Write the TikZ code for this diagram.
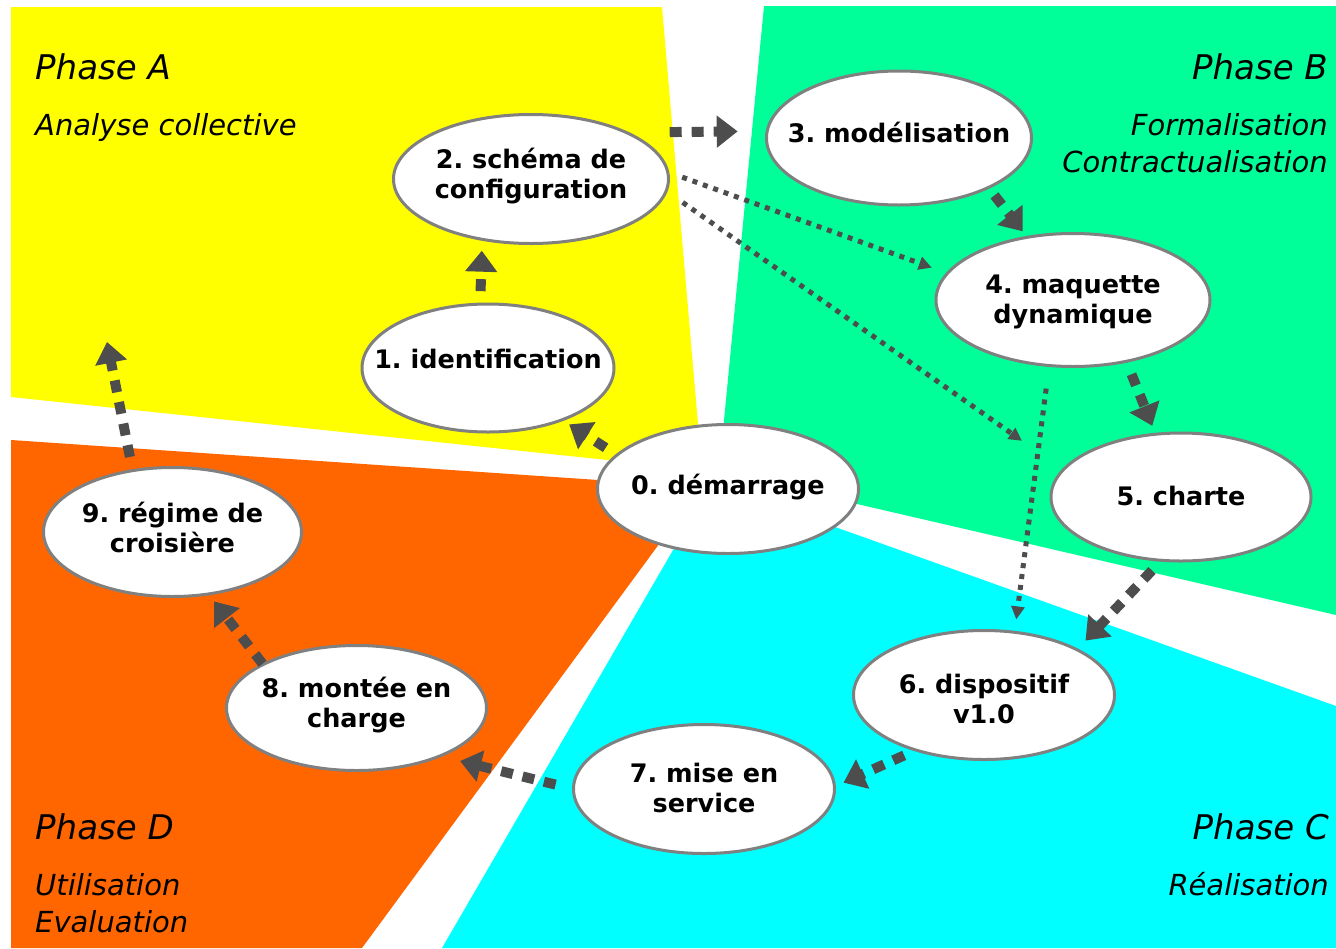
\documentclass[tikz,border=0pt]{standalone}
\usepackage{fontspec}
\setmainfont{DejaVu Sans}
\frenchspacing
\usetikzlibrary{arrows.meta,shapes.geometric}
\definecolor{cA}{HTML}{FFFF00}
\definecolor{cB}{HTML}{00FF99}
\definecolor{cC}{HTML}{00FFFF}
\definecolor{cD}{HTML}{FF6600}
\definecolor{arr}{HTML}{4D4D4D}
\definecolor{rim}{HTML}{808080}
\newcommand\ntext[2]{\raisebox{#1}[0pt][0pt]{\makebox[0pt]{\begin{tabular}[t]{@{}c@{}}#2\end{tabular}}}}
\begin{document}
\begin{tikzpicture}[x=1pt,y=-1pt,
  ell/.style={ellipse, draw=rim, line width=3pt, fill=white, inner sep=0pt, outer sep=0pt,
    font=\fontsize{25.5}{30}\selectfont\bfseries},
  bigarrow/.style={draw=arr, line width=10pt, dash pattern=on 12pt off 10pt,
    -{Triangle[length=21pt,width=31pt]}},
  thinarrow/.style={draw=arr, line width=5pt, dash pattern=on 5pt off 6pt,
    -{Triangle[length=13pt,width=13pt]}},
  phase/.style={inner sep=0pt, font=\fontsize{34}{40}\selectfont\itshape},
  sub/.style={inner sep=0pt, font=\fontsize{29}{37}\selectfont\itshape}]
\useasboundingbox[fill=white] (0,0) rectangle (1336,948);
% phase areas
\fill[cA] (11,7) -- (662,7) -- (702,470) -- (11,397) -- cycle;
\fill[cB] (764,6) -- (1336,6) -- (1336,615) -- (719,472) -- cycle;
\fill[cC] (712,483) -- (1336,706) -- (1336,948) -- (442,948) -- cycle;
\fill[cD] (11,440) -- (701,487) -- (362,948) -- (11,948) -- cycle;
% phase labels
\node[phase, anchor=base west] (pA) at (35,79) {Phase A};
\node[sub, anchor=base west] (pAs) at (35,135) {Analyse collective};
\node[phase, anchor=base east] (pB) at (1328,79) {Phase B};
\node[sub, anchor=base east] (pBs1) at (1328,135) {Formalisation};
\node[sub, anchor=base east] (pBs2) at (1328,172) {Contractualisation};
\node[phase, anchor=base east] (pC) at (1329,839) {Phase C};
\node[sub, anchor=base east] (pCs) at (1329,895) {Réalisation};
\node[phase, anchor=base west] (pD) at (35,839) {Phase D};
\node[sub, anchor=base west] (pDs1) at (35,895) {Utilisation};
\node[sub, anchor=base west] (pDs2) at (35,932) {Evaluation};
% steps
\node[ell, minimum width=261pt, minimum height=129pt] (n0) at (728,489) {\ntext{-5pt}{0. démarrage}};
\node[ell, minimum width=252pt, minimum height=128pt] (n1) at (488,368) {\ntext{0pt}{1. identification}};
\node[ell, minimum width=275pt, minimum height=129pt] (n2) at (531,179) {\ntext{11pt}{2. schéma de\\configuration}};
\node[ell, minimum width=265pt, minimum height=134pt] (n3) at (899,138) {\ntext{-4pt}{3. modélisation}};
\node[ell, minimum width=274pt, minimum height=133pt] (n4) at (1073,300) {\ntext{7pt}{4. maquette\\dynamique}};
\node[ell, minimum width=260pt, minimum height=128pt] (n5) at (1181,497) {\ntext{-8pt}{5. charte}};
\node[ell, minimum width=261pt, minimum height=129pt] (n6) at (984,695) {\ntext{2pt}{6. dispositif\\v1.0}};
\node[ell, minimum width=261pt, minimum height=129pt] (n7) at (704,789) {\ntext{7pt}{7. mise en\\service}};
\node[ell, minimum width=260pt, minimum height=125pt] (n8) at (356.5,708) {\ntext{11pt}{8. montée en\\charge}};
\node[ell, minimum width=258pt, minimum height=129pt] (n9) at (172.5,532) {\ntext{10pt}{9. régime de\\croisière}};
\coordinate (tipA) at (107,342);
% main cycle
\draw[bigarrow, shorten <=13.5pt, shorten >=8.5pt] (n0.163) -- (n1.325);
\draw[bigarrow, shorten <=13pt, shorten >=11.4pt] (n1.97) -- (n2.231);
\draw[bigarrow, shorten <=43.4pt, shorten >=29.5pt] (n2.26) -- (n3.177);
\draw[bigarrow, shorten <=10pt, shorten >=7.5pt] (n3.331) -- (n4.126);
\draw[bigarrow, shorten <=14pt, shorten >=9pt] (n4.311) -- (n5.112);
\draw[bigarrow, shorten <=14pt, shorten >=12.5pt] (n5.253) -- (n6.26);
\draw[bigarrow, shorten <=13pt, shorten >=10pt] (n6.219) -- (n7.1);
\draw[bigarrow, shorten <=18.5pt, shorten >=21pt] (n7.180) -- (n8.330);
\draw[bigarrow, shorten <=1pt, shorten >=9.5pt] (n8.155) -- (n9.300);
\draw[bigarrow, shorten <=14pt] (n9.123) -- (tipA);
% shortcuts
\draw[thinarrow, shorten <=15.5pt, shorten >=16.7pt] (n2.3) -- (n4.168);
\draw[thinarrow, shorten <=20.2pt, shorten >=50.5pt] (n2.355) -- (n5.167);
\draw[thinarrow, shorten <=23.3pt, shorten >=13pt] (n4.250) -- (n6.64);
\end{tikzpicture}
\end{document}
